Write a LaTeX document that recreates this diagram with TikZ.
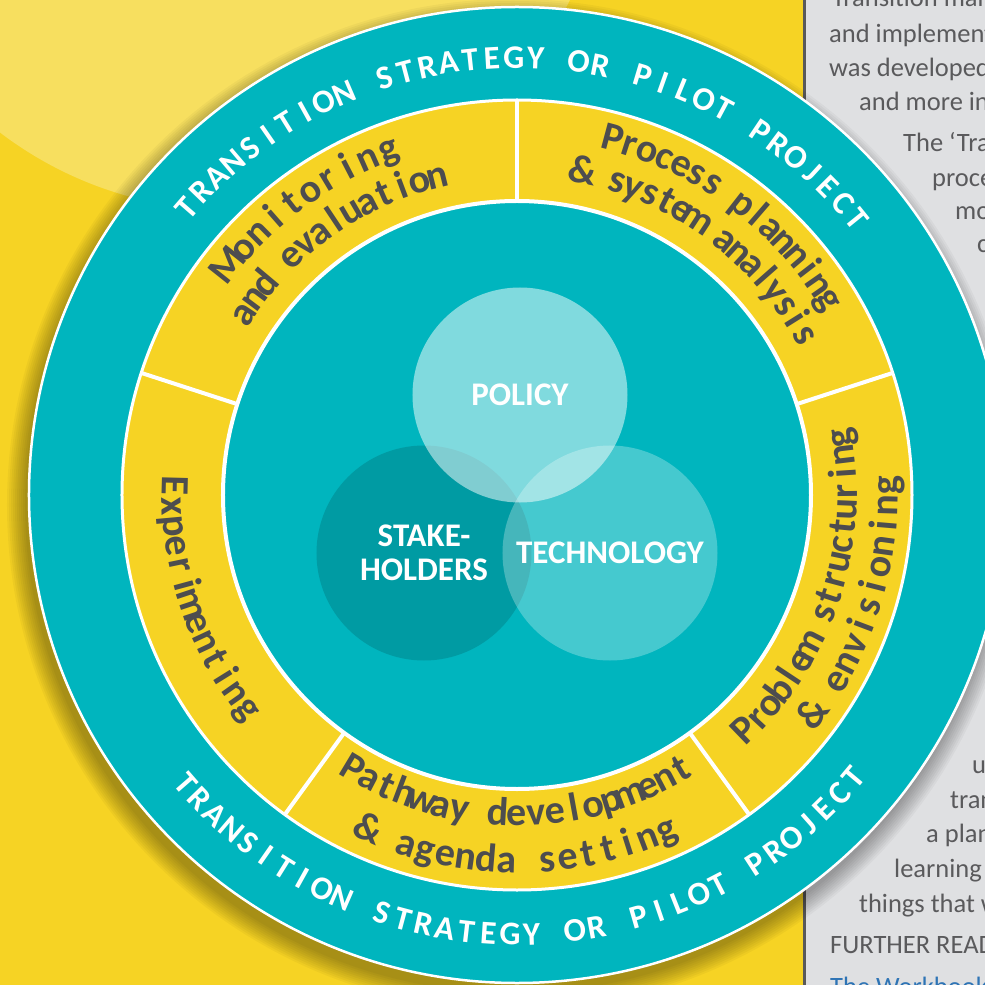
\documentclass[tikz,border=0pt]{standalone}
\usepackage{fontspec}
\setmainfont{Carlito}
\newfontfamily\wheelfamily{Carlito}
\newfontfamily\bodyfont{Carlito}
\definecolor{sunyellow}{HTML}{F6D324}
\definecolor{paleyellow}{HTML}{F7DF5F}
\definecolor{ringteal}{HTML}{00B5BE}
\definecolor{phasegray}{HTML}{4D4D4F}
\definecolor{panelgray}{HTML}{DFE0E2}
\definecolor{paneltext}{HTML}{5A5A5C}
\definecolor{linkblue}{HTML}{2E74B5}
\newcommand\ringfont{\color{white}\wheelfamily\bfseries\fontsize{33}{33}\selectfont}
\newcommand\phasefont{\color{phasegray}\wheelfamily\bfseries\fontsize{37}{37}\selectfont}
\tikzstyle{venn}=[circle,minimum size=215pt,inner sep=0pt,text=white,text opacity=1,font=\bodyfont\bfseries\fontsize{33}{34}\selectfont,align=center]
\tikzstyle{divider}=[draw=white,line width=4pt]
\tikzstyle{panel line}=[anchor=base west,inner sep=0pt,text=paneltext,font=\bodyfont\fontsize{26.5}{26.5}\selectfont]
\tikzstyle{glyph}=[inner sep=0pt,anchor=base]

% letters spread along an arc: font, radius, from angle, to angle, text (~ for a space)
\newbox\glyphbox
\newdimen\glyphrun
\newdimen\glyphwidth
\newcount\glyphcount
\newcount\glyphid
\def\glyphstop{\glyphstop}
\def\measureglyphs#1{\ifx#1\glyphstop\else
	\setbox\glyphbox\hbox{\glyphfont#1}\glyphwidth=\wd\glyphbox
	\advance\glyphrun\glyphwidth \advance\glyphcount1
	\expandafter\measureglyphs\fi}
\def\placeglyphs#1{\ifx#1\glyphstop\else
	\setbox\glyphbox\hbox{\glyphfont#1}\glyphwidth=\wd\glyphbox
	\pgfmathsetmacro\glyphangle{\glyphfrom+\glyphsign*(\the\glyphrun+0.5*\the\glyphwidth)/\glyphrad*57.29578}%
	\global\advance\glyphid1
	\node[glyph,rotate=\glyphangle+\glyphsign*90] (glyph\the\glyphid) at (\glyphangle:\glyphrad) {\glyphfont#1};
	\advance\glyphrun\glyphwidth \advance\glyphrun\glyphgap pt
	\expandafter\placeglyphs\fi}
\newcommand\arcglyphs[5]{%
	\def\glyphfont{#1}\def\glyphrad{#2}\def\glyphfrom{#3}%
	\glyphrun=0pt \glyphcount=0
	\measureglyphs#5\glyphstop
	\pgfmathsetmacro\glyphsign{(#4>#3) ? 1 : -1}%
	\pgfmathsetmacro\glyphgap{(abs(#4-#3)/57.29578*#2-\the\glyphrun)/(\the\glyphcount-1)}%
	\glyphrun=0pt
	\placeglyphs#5\glyphstop}
% phase lines: the size is eased so that the letters keep a small, even gap
\newcommand\arcphase[4]{%
	\def\glyphfont{\phasefont}%
	\glyphrun=0pt \glyphcount=0
	\measureglyphs#4\glyphstop
	\pgfmathsetmacro\glyphsize{min(40,max(33,37*(abs(#3-#2)/57.29578*#1)/(\the\glyphrun+(\the\glyphcount-1)*1.5)))}%
	\edef\phasesized{\noexpand\color{phasegray}\noexpand\wheelfamily\noexpand\bfseries\noexpand\fontsize{\glyphsize}{\glyphsize}\noexpand\selectfont}%
	\expandafter\arcglyphs\expandafter{\phasesized}{#1}{#2}{#3}{#4}}

\begin{document}
\begin{tikzpicture}[x=1pt,y=1pt]
	\useasboundingbox (-517,-490) rectangle (468,495);
	\clip (-517,-490) rectangle (468,495);
	% First the page behind the wheel
	\fill[sunyellow] (-517,-490) rectangle (468,495);
	\fill[paleyellow] (-287,665) circle[radius=380];
	\fill[panelgray] (289,-490) rectangle (468,495);
	\draw[line width=3pt,color=black!65] (287.5,-490) -- (287.5,495);
	\foreach \pos/\name/\words in {{(315,488)/tr/Transition man}, {(312,452.5)/ai/and implement}, {(312,418)/wd/was developed}, {(342,384)/mi/and more in}, {(386,343)/tt/The ‘Tra}, {(415,308)/pr/proce}, {(438,275)/mo/mo}, {(460,242)/cc/c}, {(455,-278)/uu/u}, {(433,-313)/tn/tran}, {(409,-347)/ap/a plan}, {(377,-382)/le/learning}, {(342,-417)/th/things that w}, {(313,-458)/fr/FURTHER READ}}
	\node[panel line] (\name) at \pos {\words};
	\node[panel line,text=linkblue] (wb) at (313,-500) {The Workbook};
	
	% Soft shadow and the wheel itself
	\foreach \i in {1,...,10}
	\fill[black,opacity=0.035] (-4,-10) circle[radius=486+2*\i];
	\draw[white,line width=2.5pt,fill=ringteal] (0,0) circle[radius=488];
	\fill[sunyellow,even odd rule] (0,0) circle[radius=395] (0,0) circle[radius=294];
	\draw[white,line width=3pt] (0,0) circle[radius=395];
	\draw[white,line width=4pt] (0,0) circle[radius=294];
	\foreach \a in {18,90,162,234,306}
	\draw[divider] (\a:294) -- (\a:395);
	
	% Outer ring labels
	\arcglyphs{\ringfont}{427}{139}{39}{TRANSITION~STRATEGY~OR~PILOT~PROJECT}
	\arcglyphs{\ringfont}{450}{221}{320}{TRANSITION~STRATEGY~OR~PILOT~PROJECT}
	
	% Phases round the yellow ring
	\arcphase{357}{141.5}{110.5}{Monitoring}
	\arcphase{317}{146.5}{104}{and~evaluation}
	\arcphase{357}{75}{32}{Process~planning}
	\arcphase{318}{78.5}{29}{\&~system~analysis}
	\arcphase{340}{-46}{10}{Problem~structuring}
	\arcphase{381}{-36.5}{1.5}{\&~envisioning}
	\arcphase{331}{239}{301}{Pathway~development}
	\arcphase{378}{246}{294}{\&~agenda~setting}
	\arcphase{355}{178.5}{218.5}{Experimenting}
	
	% Venn circles in the middle
	\node[venn,fill=black,fill opacity=.14,text opacity=1] (stake) at (-93,-58) {STAKE-\\HOLDERS};
	\node[venn,fill=white,fill opacity=.5,text opacity=1] (policy) at (3,100) {POLICY};
	\node[venn,fill=white,fill opacity=.27,text opacity=1] (tech) at (93,-58) {TECHNOLOGY};
\end{tikzpicture}
\end{document}
